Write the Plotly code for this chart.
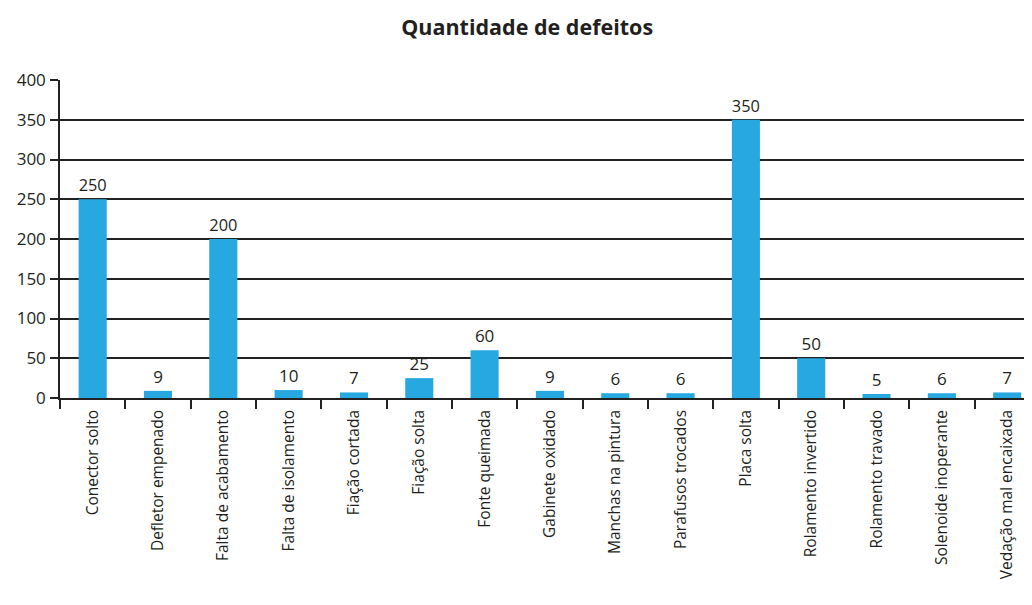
import plotly.graph_objects as go

categories = [
    "Conector solto", "Defletor empenado", "Falta de acabamento", "Falta de isolamento",
    "Fiação cortada", "Fiação solta", "Fonte queimada", "Gabinete oxidado",
    "Manchas na pintura", "Parafusos trocados", "Placa solta", "Rolamento invertido",
    "Rolamento travado", "Solenoide inoperante", "Vedação mal encaixada",
]
values = [250, 9, 200, 10, 7, 25, 60, 9, 6, 6, 350, 50, 5, 6, 7]
y_ticks = [0, 50, 100, 150, 200, 250, 300, 350, 400]

FONT = "Open Sans"
TXT = "#231f20"

fig = go.Figure(
    go.Bar(
        x=categories,
        y=values,
        width=0.43,
        marker=dict(color="#27a8e0", line=dict(width=0)),
        text=values,
        textposition="outside",
        cliponaxis=False,
        textfont=dict(family=FONT, size=17, color=TXT),
    )
)

fig.update_layout(
    width=1024,
    height=597,
    margin=dict(l=52, r=0, t=72, b=207, autoexpand=False),
    paper_bgcolor="white",
    plot_bgcolor="white",
    showlegend=False,
    title=dict(
        text="<b>Quantidade de defeitos</b>",
        x=0.507,
        xanchor="center",
        y=0.967,
        yanchor="middle",
        font=dict(family=FONT, size=21.5, color=TXT),
    ),
    font=dict(family=FONT, size=15, color=TXT),
)

fig.update_xaxes(
    type="category",
    range=[-0.5, 14.38],
    tickangle=-90,
    ticks="outside",
    tickson="boundaries",
    ticklen=9,
    tickwidth=1.5,
    tickcolor="#222",
    showline=True,
    linecolor="#222",
    linewidth=1.5,
    showgrid=False,
    ticklabelstandoff=4,
    tickfont=dict(family=FONT, size=15.5, color=TXT),
)

fig.update_yaxes(
    range=[0, 400],
    tickvals=y_ticks,
    ticks="outside",
    ticklen=8,
    tickwidth=1.5,
    tickcolor="#222",
    showline=True,
    linecolor="#222",
    linewidth=1.5,
    showgrid=True,
    gridcolor="#222",
    gridwidth=1.5,
    zeroline=False,
    ticklabelstandoff=1,
    tickfont=dict(family=FONT, size=17, color=TXT),
)

fig.write_html("out.html")
